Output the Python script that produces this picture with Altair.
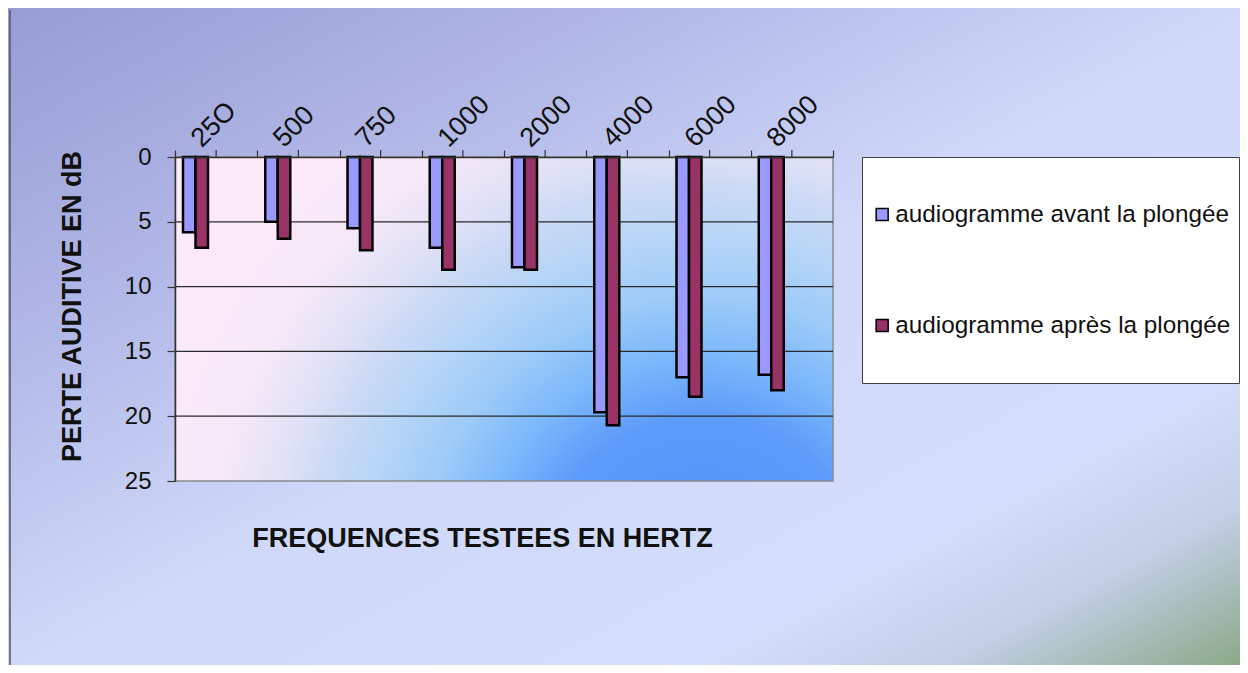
import altair as alt
import pandas as pd

# ---- data ----
freqs = ["25O", "500", "750", "1000", "2000", "4000", "6000", "8000"]
series = ["audiogramme avant la plongée", "audiogramme après la plongée"]
avant = [5.8, 5.0, 5.5, 7.0, 8.5, 19.7, 17.0, 16.8]
apres = [7.0, 6.3, 7.2, 8.7, 8.7, 20.7, 18.5, 18.0]
y_ticks = [0, 5, 10, 15, 20, 25]
grid_vals = [5, 10, 15, 20]
colors = ["#9999ff", "#993366"]

rows = []
for f, a, b in zip(freqs, avant, apres):
    rows.append({"freq": f, "serie": series[0], "perte": a})
    rows.append({"freq": f, "serie": series[1], "perte": b})
df = pd.DataFrame(rows)

W, H = 658, 324
PAD = {"left": 167, "top": 149, "right": 407, "bottom": 184}
FONT = "Liberation Sans"

yscale = alt.Scale(domain=[0, 25], reverse=True, nice=False)
xscale = alt.Scale(domain=freqs, paddingInner=0, paddingOuter=0)

x_axis = alt.Axis(
    orient="top",
    zindex=1,
    tickBand="extent",
    tickSize=7,
    tickColor="#333333",
    tickWidth=1.2,
    domainColor="#333333",
    domainWidth=1.5,
    labelAngle=-45,
    labelAlign="left",
    labelBaseline="alphabetic",
    labelOffset=-15,
    labelPadding=2,
    labelFont=FONT,
    labelFontSize=27,
    labelColor="#111111",
    title="FREQUENCES TESTEES EN HERTZ",
    titleFont=FONT,
    titleFontSize=27,
    titleFontWeight="bold",
    titleColor="#111111",
    titleX=307,
    titleY=381,
    titleAngle=0,
    titleAlign="center",
    titleBaseline="middle",
)

y_axis = alt.Axis(
    values=y_ticks,
    zindex=1,
    grid=False,
    tickSize=8,
    tickColor="#333333",
    tickWidth=1.2,
    domainColor="#333333",
    domainWidth=1.5,
    labelPadding=16,
    labelFont=FONT,
    labelFontSize=24,
    labelColor="#111111",
    title="PERTE AUDITIVE EN dB",
    titleFont=FONT,
    titleFontSize=27,
    titleFontWeight="bold",
    titleColor="#111111",
    titleAngle=270,
    titleX=-103,
    titleY=149,
    titleAlign="center",
    titleBaseline="middle",
)

outer_grad = {
    "gradient": "linear", "x1": 0, "y1": 0, "x2": 1, "y2": 1,
    "stops": [
        {"offset": 0.0, "color": "#979cd3"},
        {"offset": 0.25, "color": "#b0b6e6"},
        {"offset": 0.5, "color": "#cfd8f9"},
        {"offset": 0.78, "color": "#d4ddfb"},
        {"offset": 0.88, "color": "#c2cfe6"},
        {"offset": 1.0, "color": "#8ca888"},
    ],
}
plot_grad = {
    "gradient": "radial", "x1": 0.8, "y1": 0.894, "r1": 0, "x2": 0.8, "y2": 0.894, "r2": 0.85,
    "stops": [
        {"offset": 0.0, "color": "#4e8cf8"},
        {"offset": 0.29, "color": "#5e9cfa"},
        {"offset": 0.4, "color": "#7cb8fb"},
        {"offset": 0.5, "color": "#9ccaf8"},
        {"offset": 0.6, "color": "#b4d4f7"},
        {"offset": 0.7, "color": "#ccdaf5"},
        {"offset": 0.78, "color": "#e2e2f6"},
        {"offset": 0.88, "color": "#f6e8f8"},
        {"offset": 1.0, "color": "#fbe9f8"},
    ],
}

one = pd.DataFrame({"k": [0]})

bg = alt.Chart(one).mark_rect(fill=outer_grad).encode(
    x=alt.value(-PAD["left"]), x2=alt.value(W + PAD["right"]),
    y=alt.value(-PAD["top"]), y2=alt.value(H + PAD["bottom"]),
)

left_border = alt.Chart(one).mark_rule(color="#555566", strokeWidth=1.5).encode(
    x=alt.value(-PAD["left"] + 2), y=alt.value(-PAD["top"] + 2), y2=alt.value(H + PAD["bottom"]),
)

plotbg = alt.Chart(one).mark_rect(fill=plot_grad, stroke="#8a8a8a", strokeWidth=1.5).encode(
    x=alt.value(0), x2=alt.value(W), y=alt.value(0), y2=alt.value(H),
)

grid = alt.Chart(pd.DataFrame({"perte": grid_vals})).mark_rule(color="#2a2a2a", strokeWidth=1.2).encode(
    y=alt.Y("perte:Q", scale=yscale, axis=y_axis),
    x=alt.value(0), x2=alt.value(W),
)

center_ticks = alt.Chart(pd.DataFrame({"freq": freqs})).mark_rule(color="#333333", strokeWidth=1.2).encode(
    x=alt.X("freq:N", sort=freqs, scale=xscale, axis=x_axis),
    y=alt.value(-7), y2=alt.value(0),
)

bars = alt.Chart(df).mark_bar(stroke="black", strokeWidth=2.5).encode(
    x=alt.X("freq:N", sort=freqs, scale=xscale, axis=x_axis),
    xOffset=alt.XOffset(
        "serie:N",
        sort=series,
        scale=alt.Scale(domain=series, range=[8, 33], paddingInner=0, paddingOuter=0),
    ),
    y=alt.Y("perte:Q", scale=yscale, axis=y_axis),
    color=alt.Color(
        "serie:N",
        sort=series,
        scale=alt.Scale(domain=series, range=colors),
        legend=alt.Legend(
            title=None,
            orient="none",
            legendX=687,
            legendY=0,
            direction="vertical",
            fillColor="white",
            strokeColor="#404040",
            padding=8,
            clipHeight=99,
            rowPadding=12,
            symbolType="square",
            symbolSize=144,
            symbolStrokeColor="black",
            symbolStrokeWidth=1.5,
            labelFont=FONT,
            labelFontSize=24.3,
            labelColor="#111111",
            labelOffset=1,
            labelLimit=600,
        ),
    ),
)

chart = alt.layer(bg, left_border, plotbg, grid, center_ticks, bars).properties(
    width=W,
    height=H,
    autosize=alt.AutoSizeParams(type="none"),
    padding=PAD,
    background="white",
).configure_view(stroke=None)

chart.save("out.html", embed_options={"renderer": "svg", "actions": False})
